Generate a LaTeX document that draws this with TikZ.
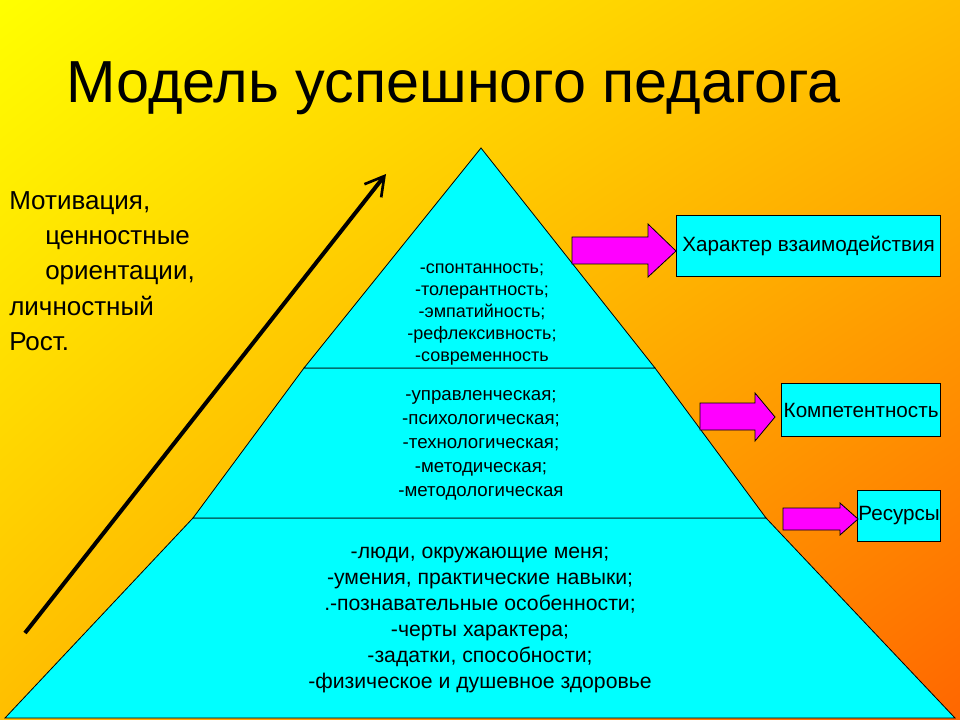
\documentclass[tikz,border=0pt]{standalone}
\usepackage{fontspec}
\setmainfont{Liberation Sans}
\usetikzlibrary{arrows.meta,shadings}
\definecolor{cyanfill}{RGB}{0,255,255}
\definecolor{pinkarrow}{RGB}{255,0,255}
\definecolor{topyellow}{RGB}{255,255,0}
\definecolor{botorange}{RGB}{255,102,0}
\definecolor{midorange}{RGB}{255,190,0}
\tikzset{
  layer/.style={fill=cyanfill,draw=black,line width=0.6pt},
  layertext/.style={align=center,inner sep=0pt,font=\fontsize{13.5}{16.5}\selectfont},
  labelbox/.style={draw=black,fill=cyanfill,line width=0.6pt,font=\fontsize{15.5}{18}\selectfont,inner sep=1pt,anchor=east},
  pinkarrow/.style={draw=black,fill=pinkarrow,line width=0.6pt}
}
\begin{document}
\begin{tikzpicture}[x=0.75pt,y=-0.75pt]
  % background
  \shade[upper left=topyellow,upper right=midorange,lower left=midorange,lower right=botorange] (0,0) rectangle (960,720);
  \useasboundingbox (0,0) rectangle (960,720);
  % title
  \node[anchor=west,inner sep=0pt,font=\fontsize{44.5}{48}\selectfont] (title) at (66,88) {Модель успешного педагога};
  % pyramid layers
  \coordinate (apex) at (481,148);
  \coordinate (l1) at (304,368);
  \coordinate (r1) at (655,368);
  \coordinate (l2) at (193,518);
  \coordinate (r2) at (766,518);
  \coordinate (l3) at (5,718);
  \coordinate (r3) at (955,718);
  \draw[layer] (l3) -- (l2) -- (r2) -- (r3) -- cycle;
  \draw[layer] (l2) -- (l1) -- (r1) -- (r2) -- cycle;
  \draw[layer] (l1) -- (apex) -- (r1) -- cycle;
  \node[layertext] (top) at (482,315) {-спонтанность;\\-толерантность;\\-эмпатийность;\\-рефлексивность;\\-современность};
  \node[layertext,font=\fontsize{14}{18}\selectfont] (mid) at (481,445) {-управленческая;\\-психологическая;\\-технологическая;\\-методическая;\\-методологическая};
  \node[layertext,font=\fontsize{15.9}{19.5}\selectfont] (low) at (480,620) {-люди, окружающие меня;\\-умения, практические навыки;\\.-познавательные особенности;\\-черты характера;\\-задатки, способности;\\-физическое и душевное здоровье};
  % growth arrow
  \coordinate (growA) at (25,633);
  \coordinate (growB) at (386,174);
  \draw[line width=3pt,-{Straight Barb[length=14pt,width=16pt,line width=2pt]}] (growA) -- (growB);
  \node[anchor=north west,align=left,inner sep=0pt,font=\fontsize{19.5}{26.5}\selectfont] (motiv) at (9,191)
    {Мотивация,\\\hspace*{27pt}ценностные\\\hspace*{27pt}ориентации,\\личностный\\Рост.};
  % labels at right
  \node[labelbox,minimum width=264*0.75pt,minimum height=61*0.75pt] (box1) at (941,246) {Характер взаимодействия};
  \node[labelbox,minimum width=159*0.75pt,minimum height=53*0.75pt] (box2) at (941,410) {Компетентность};
  \node[labelbox,minimum width=83*0.75pt,minimum height=51*0.75pt,inner sep=0pt] (box3) at (941,516) {Ресурсы};
  % pink arrows
  \draw[pinkarrow] (572,237) -- (648,237) -- (648,224) -- (676,251) -- (648,277) -- (648,264) -- (572,264) -- cycle;
  \draw[pinkarrow] (700,403) -- (755,403) -- (755,393) -- (775,417) -- (755,441) -- (755,430) -- (700,430) -- cycle;
  \draw[pinkarrow] (783,508) -- (840,508) -- (840,503) -- (858,519) -- (840,535) -- (840,530) -- (783,530) -- cycle;
\end{tikzpicture}
\end{document}
